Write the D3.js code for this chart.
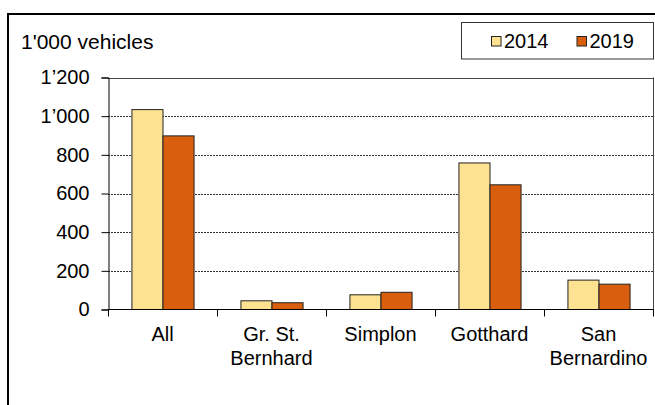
<!DOCTYPE html>
<html><head><meta charset="utf-8">
<script src="https://cdn.jsdelivr.net/npm/d3@7"></script>
<style>body{margin:0;background:#fff}svg{display:block;font-family:"Liberation Sans",Arial,sans-serif}</style>
</head><body><svg id="c" width="655" height="405"></svg>
<script>
const categories = [["All"], ["Gr. St.", "Bernhard"], ["Simplon"], ["Gotthard"], ["San", "Bernardino"]];
const series = ["2014", "2019"];
const values2014 = [1034, 45, 76, 758, 152];
const values2019 = [898, 35, 89, 645, 131];
const yTicks = [0, 200, 400, 600, 800, 1000, 1200];
const yTickLabels = ["0", "200", "400", "600", "800", "1’000", "1’200"];
const colors = ["#FDE291", "#D95F0E"];
const unitLabel = "1'000 vehicles";

const FS = 20;
const svg = d3.select("#c");
const L = 108, R = 653, T = 77.5, B = 309.5;

svg.append("rect").attr("x", 8).attr("y", 14).attr("width", 700).attr("height", 500)
  .attr("fill", "none").attr("stroke", "#000").attr("stroke-width", 2);

const keys = categories.map((c, i) => i);
const x0 = d3.scaleBand().domain(keys).range([L, R]).padding(0);
const bw = x0.bandwidth();
const x1 = d3.scaleBand().domain(series).range([bw * 0.215, bw * 0.785]).padding(0);
const y = d3.scaleLinear().domain([0, 1200]).range([B, T]);

// gridlines
svg.append("g").selectAll("line").data(yTicks.filter(t => t > 0 && t < 1200)).join("line")
  .attr("x1", L).attr("x2", R).attr("y1", d => Math.round(y(d)) + 0.5).attr("y2", d => Math.round(y(d)) + 0.5)
  .attr("stroke", "#333").attr("stroke-width", 1).attr("stroke-dasharray", "2,1");
// top and right border
svg.append("line").attr("x1", L).attr("x2", R).attr("y1", Math.round(y(1200)) + 0.5).attr("y2", Math.round(y(1200)) + 0.5)
  .attr("stroke", "#444").attr("stroke-width", 1);
svg.append("line").attr("x1", R + 0.5).attr("x2", R + 0.5).attr("y1", y(1200)).attr("y2", B)
  .attr("stroke", "#444").attr("stroke-width", 1);

// bars
const rows = keys.map(i => ({i, vals: [values2014[i], values2019[i]]}));
const g = svg.append("g");
rows.forEach(r => {
  g.selectAll(null).data(series.map((s, j) => ({s, v: r.vals[j], j}))).join("rect")
    .attr("x", d => x0(r.i) + x1(d.s) + 0.5)
    .attr("y", d => y(d.v))
    .attr("width", x1.bandwidth())
    .attr("height", d => y(0) - y(d.v))
    .attr("fill", d => colors[d.j]).attr("stroke", "#222").attr("stroke-width", 1);
});

// y axis
const yAxis = d3.axisLeft(y).tickValues(yTicks).tickFormat((d, i) => yTickLabels[i]).tickSize(7).tickPadding(12);
const ya = svg.append("g").attr("transform", `translate(${L + 0.5},0)`).call(yAxis);
ya.select(".domain").attr("stroke", "#000");
ya.selectAll(".tick line").attr("stroke", "#000");
ya.selectAll("text").attr("font-size", FS).attr("fill", "#000").attr("font-family", "Liberation Sans, Arial, sans-serif");

// x axis
const xa = svg.append("g").attr("transform", `translate(0,${B})`);
xa.append("line").attr("x1", L).attr("x2", R + 1).attr("stroke", "#000");
xa.selectAll("line.t").data(keys.concat([keys.length])).join("line").attr("class", "t")
  .attr("x1", d => (d < keys.length ? x0(d) : R) + 0.5).attr("x2", d => (d < keys.length ? x0(d) : R) + 0.5)
  .attr("y1", 0).attr("y2", 7).attr("stroke", "#000");
xa.selectAll("text").data(keys).join("text")
  .attr("x", d => x0(d) + bw / 2).attr("y", 31)
  .attr("text-anchor", "middle").attr("font-size", FS).attr("fill", "#000")
  .each(function(d) {
    const t = d3.select(this);
    categories[d].forEach((line, k) => t.append("tspan").attr("x", x0(d) + bw / 2).attr("dy", k === 0 ? 0 : 24).text(line));
  });

// unit label
svg.append("text").attr("x", 21).attr("y", 48.5).attr("font-size", 21).attr("fill", "#000").text(unitLabel);

// legend
const lg = svg.append("g");
lg.append("rect").attr("x", 461.5).attr("y", 22.5).attr("width", 192).attr("height", 36.5)
  .attr("fill", "#fff").attr("stroke", "#333").attr("stroke-width", 1);
const lx = [491, 576.5];
series.forEach((s, j) => {
  lg.append("rect").attr("x", lx[j] + 0.5).attr("y", 36.5).attr("width", 9.5).attr("height", 9.5)
    .attr("fill", colors[j]).attr("stroke", "#222");
  lg.append("text").attr("x", lx[j] + 13).attr("y", 47.5).attr("font-size", FS).attr("fill", "#000").text(s);
});
</script></body></html>
